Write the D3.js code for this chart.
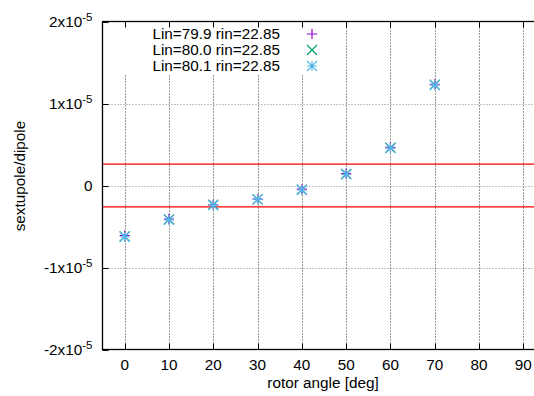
<!DOCTYPE html>
<html>
<head>
<meta charset="utf-8">
<script src="https://cdn.jsdelivr.net/npm/d3@7"></script>
<style>
  html, body { margin: 0; padding: 0; background: #fff; }
  svg { display: block; font-family: "Liberation Sans", Arial, sans-serif; }
</style>
</head>
<body>
<svg id="chart" width="534" height="396"></svg>
<script>
// rotor angle scan: sextupole/dipole ratio for three (Lin, rin) settings
const angles = [0, 10, 20, 30, 40, 50, 60, 70];
const seriesLabels = ["Lin=79.9 rin=22.85", "Lin=80.0 rin=22.85", "Lin=80.1 rin=22.85"];
const lin799 = [-0.61e-5, -0.41e-5, -0.235e-5, -0.165e-5, -0.045e-5, 0.145e-5, 0.465e-5, 1.235e-5];
const lin800 = [-0.62e-5, -0.415e-5, -0.235e-5, -0.17e-5, -0.05e-5, 0.14e-5, 0.46e-5, 1.23e-5];
const lin801 = [-0.625e-5, -0.42e-5, -0.24e-5, -0.17e-5, -0.055e-5, 0.135e-5, 0.455e-5, 1.225e-5];
const tolerance = [2.6e-6, -2.6e-6];
const xTicks = [0, 10, 20, 30, 40, 50, 60, 70, 80, 90];
const yTicks = [-2, -1, 0, 1, 2];   // in units of 1e-5

const seriesColors = ["#9400d3", "#009e73", "#56b4e9"];
const seriesShapes = ["plus", "cross", "star"];
const seriesValues = [lin799, lin800, lin801];

const fs = 15.3;
const svg = d3.select("#chart");
const pLeft = 102.5, pRight = 545.5, pTop = 21.5, pBottom = 349.5;

const x = d3.scaleLinear().domain([-5, 95]).range([pLeft, pRight]);
const y = d3.scaleLinear().domain([-2e-5, 2e-5]).range([pBottom, pTop]);

// grid
const grid = svg.append("g");
grid.selectAll("line.h").data(yTicks.filter(t => t !== -2 && t !== 2)).join("line")
  .attr("x1", pLeft).attr("x2", pRight)
  .attr("y1", d => Math.round(y(d * 1e-5)) + 0.5).attr("y2", d => Math.round(y(d * 1e-5)) + 0.5)
  .attr("stroke", "#8a8a8a").attr("stroke-width", 1).attr("stroke-dasharray", "1,2");
grid.selectAll("line.v").data(xTicks).join("line")
  .attr("x1", d => Math.round(x(d)) + 0.5).attr("x2", d => Math.round(x(d)) + 0.5)
  .attr("y1", pTop).attr("y2", pBottom)
  .attr("stroke", "#333").attr("stroke-width", 1).attr("stroke-dasharray", "1,2");

// tolerance band
svg.append("g").selectAll("line").data(tolerance).join("line")
  .attr("x1", pLeft).attr("x2", pRight)
  .attr("y1", d => y(d)).attr("y2", d => y(d))
  .attr("stroke", "#ff0000").attr("stroke-width", 1.2);

// markers
function markerPath(shape, r) {
  const p = d3.path();
  if (shape === "plus" || shape === "star") {
    p.moveTo(-r, 0); p.lineTo(r, 0); p.moveTo(0, -r); p.lineTo(0, r);
  }
  if (shape === "cross" || shape === "star") {
    p.moveTo(-r, -r); p.lineTo(r, r); p.moveTo(-r, r); p.lineTo(r, -r);
  }
  return p.toString();
}

seriesValues.forEach((vals, i) => {
  svg.append("g").selectAll("path").data(angles.map((a, k) => [a, vals[k]])).join("path")
    .attr("transform", d => `translate(${x(d[0])},${y(d[1])})`)
    .attr("d", markerPath(seriesShapes[i], 5))
    .attr("fill", "none").attr("stroke", seriesColors[i]).attr("stroke-width", 1.2);
});

// key box (opaque)
svg.append("rect").attr("x", 118).attr("y", pTop + 0.5).attr("width", 212).attr("height", 52).attr("fill", "#fff");

const key = svg.append("g").attr("font-size", fs);
seriesLabels.forEach((lab, i) => {
  const yy = 34 + i * 16;
  key.append("text").attr("x", 280).attr("y", yy).attr("dy", "0.35em")
    .attr("text-anchor", "end").attr("fill", "#000").text(lab);
  key.append("path").attr("transform", `translate(312,${yy})`)
    .attr("d", markerPath(seriesShapes[i], 5))
    .attr("fill", "none").attr("stroke", seriesColors[i]).attr("stroke-width", 1.2);
});

// ticks (inside, mirrored)
const tl = 6;
const ticks = svg.append("g").attr("stroke", "#000").attr("stroke-width", 1);
xTicks.forEach(t => {
  const xx = Math.round(x(t)) + 0.5;
  ticks.append("line").attr("x1", xx).attr("x2", xx).attr("y1", pBottom).attr("y2", pBottom - tl);
  ticks.append("line").attr("x1", xx).attr("x2", xx).attr("y1", pTop).attr("y2", pTop + tl);
});
yTicks.forEach(t => {
  const yy = Math.round(y(t * 1e-5)) + 0.5;
  ticks.append("line").attr("x1", pLeft).attr("x2", pLeft + tl).attr("y1", yy).attr("y2", yy);
  ticks.append("line").attr("x1", pRight).attr("x2", pRight - tl).attr("y1", yy).attr("y2", yy);
});

// frame
svg.append("rect").attr("x", pLeft).attr("y", pTop).attr("width", pRight - pLeft).attr("height", pBottom - pTop)
  .attr("fill", "none").attr("stroke", "#000").attr("stroke-width", 1.3);

// x tick labels
svg.append("g").attr("font-size", fs).selectAll("text").data(xTicks).join("text")
  .attr("x", d => x(d)).attr("y", 365).attr("dy", "0.35em").attr("text-anchor", "middle")
  .text(d => d);

// y tick labels with superscript exponent
const yl = svg.append("g").attr("font-size", fs);
yTicks.forEach(t => {
  const txt = yl.append("text").attr("x", 92.5).attr("y", y(t * 1e-5)).attr("dy", "0.35em")
    .attr("text-anchor", "end");
  if (t === 0) {
    txt.text("0");
  } else {
    txt.append("tspan").text(`${t}x10`);
    txt.append("tspan").attr("dy", "-0.55em").attr("font-size", 11.5).text("-5");
  }
});

// axis titles
svg.append("text").attr("x", 323).attr("y", 383).attr("dy", "0.35em").attr("text-anchor", "middle")
  .attr("font-size", fs).text("rotor angle [deg]");
svg.append("text").attr("transform", "translate(20,176) rotate(-90)").attr("dy", "0.35em")
  .attr("text-anchor", "middle").attr("font-size", fs).text("sextupole/dipole");
</script>
</body>
</html>
